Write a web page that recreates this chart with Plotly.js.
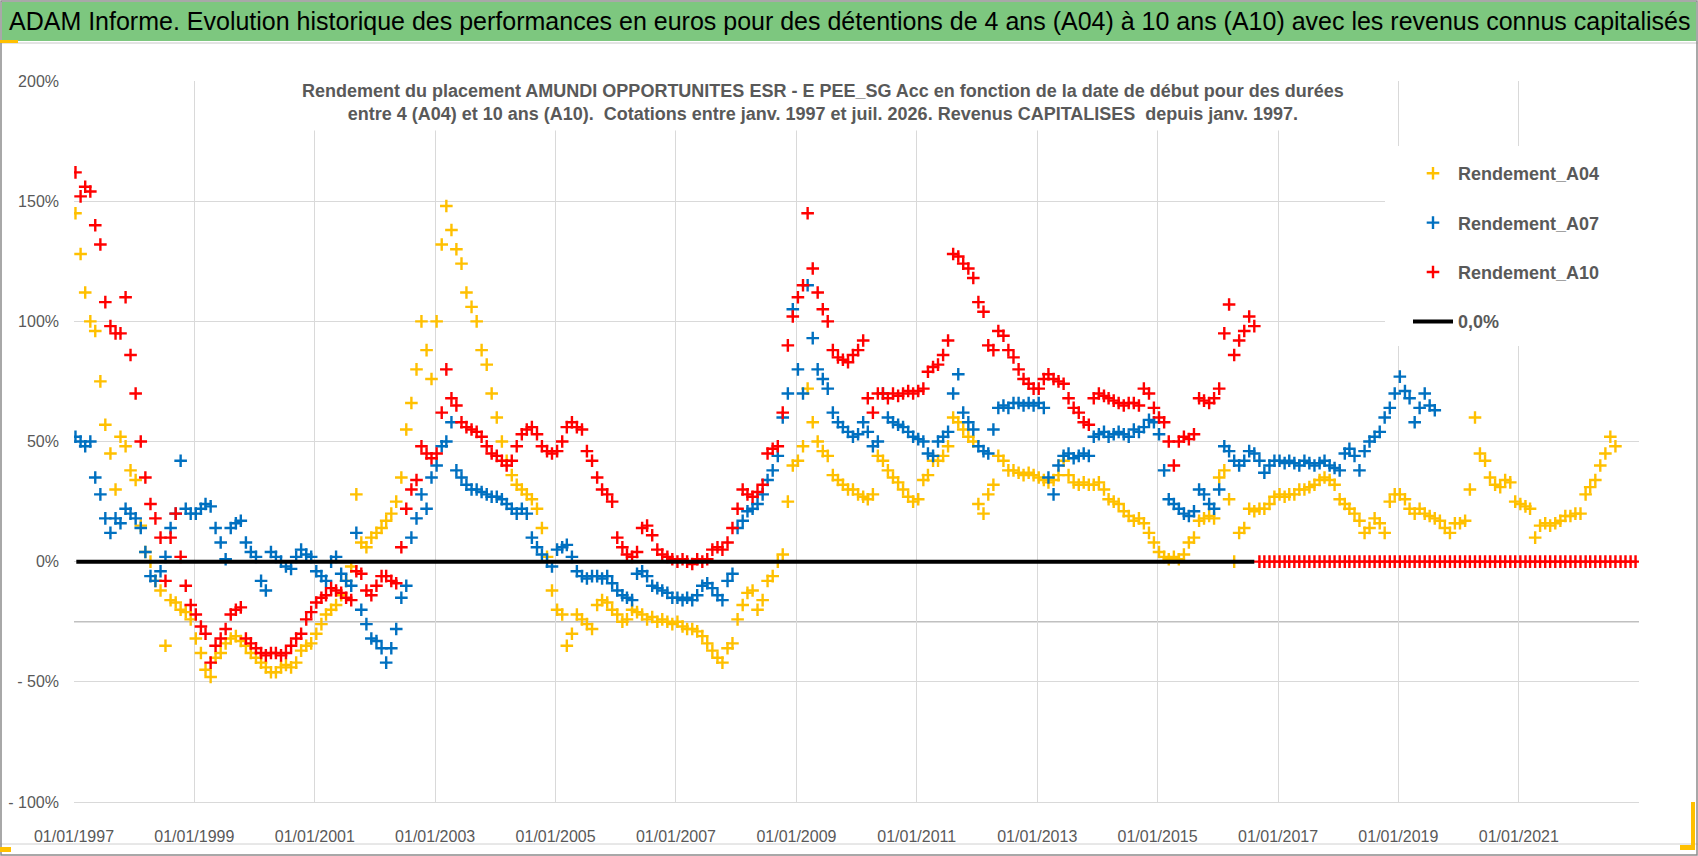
<!DOCTYPE html>
<html>
<head>
<meta charset="utf-8">
<script src="https://cdn.plot.ly/plotly-3.0.1.min.js"></script>
<style>
  html, body { margin: 0; padding: 0; background: #fff; }
  #chart { width: 1698px; height: 856px; }
</style>
</head>
<body>
<div id="chart"></div>
<script>
// monthly readings (%), one value per month starting January 1997
const rendementA04 = [
  145, 128, 112, 100, 96, 75, 57, 45, 30, 52, 48, 38,
  34, 15, 4, 0, -8, -12, -35, -16, -17, -20, -21, -24,
  -32, -38, -45, -48, -40, -38, -34, -32, -31, -33, -35, -38,
  -40, -42, -44, -46, -46, -44, -43, -44, -42, -37, -35, -34,
  -30, -26, -22, -20, -18, -14, -8, -2, 28, 8, 6, 10,
  12, 14, 17, 20, 25, 35, 55, 66, 80, 100, 88, 76,
  100, 132, 148, 138, 130, 124, 112, 106, 100, 88, 82, 70,
  60, 50, 42, 36, 32, 30, 28, 26, 22, 14, 2, -12,
  -20, -22, -35, -30, -22, -24, -26, -28, -18, -16, -17, -20,
  -22, -25, -24, -20, -21, -22, -24, -23, -25, -24, -25, -26,
  -25, -27, -28, -28, -29, -31, -34, -37, -40, -42, -36, -34,
  -24, -18, -13, -12, -20, -16, -8, -6, 0, 3, 25, 40,
  42, 48, 72, 58, 50, 46, 44, 36, 34, 32, 30, 30,
  28, 27, 26, 28, 44, 42, 38, 35, 33, 30, 27, 25,
  26, 34, 36, 42, 42, 44, 48, 60, 58, 55, 52, 50,
  24, 20, 28, 32, 44, 42, 38, 38, 37, 36, 37, 36,
  35, 34, 33, 34, 36, 42, 36, 33, 32, 33, 32, 32,
  33, 30, 26, 25, 24, 21, 19, 17, 18, 16, 12, 8,
  4, 2, 1, 2, 1, 3, 8, 10, 17, 18, 19, 18,
  35, 38, 26, 0, 12, 14, 22, 21, 22, 22, 24, 27,
  28, 27, 28, 28, 30, 30, 31, 32, 34, 35, 34, 32,
  26, 24, 22, 20, 17, 12, 14, 18, 16, 12, 25, 28,
  28, 26, 22, 20, 22, 20, 19, 18, 17, 14, 12, 16,
  16, 17, 30, 60, 45, 42, 35, 32, 31, 34, 33, 25,
  24, 23, 22, 10, 15, 16, 15, 16, 17, 19, 19, 20,
  20, 28, 31, 34, 40, 45, 52, 48
];

const rendementA07 = [
  52, 50, 48, 50, 35, 28, 18, 12, 18, 16, 22, 20,
  18, 14, 4, -6, -8, -4, 2, 14, 20, 42, 22, 20,
  20, 22, 24, 23, 14, 8, 1, 14, 16, 17, 8, 4,
  2, -8, -12, 4, 2, 0, -2, -3, 2, 5, 3, 2,
  -4, -6, -8, 0, 2, -5, -8, -10, 12, -20, -26, -32,
  -33, -36, -42, -36, -28, -15, -10, 10, 18, 28, 22, 35,
  40, 48, 50, 58, 38, 35, 32, 30, 30, 29, 28, 27,
  27, 26, 24, 22, 20, 22, 20, 10, 6, 3, 0, -2,
  5, 6, 7, 2, -4, -6, -7, -6, -6, -7, -6, -9,
  -12, -14, -15, -16, -5, -4, -6, -10, -11, -12, -13, -15,
  -15, -16, -15, -16, -14, -10, -9, -11, -14, -16, -8, -5,
  14, 17, 21, 22, 24, 28, 34, 38, 44, 60, 70, 105,
  80, 70, 115, 93, 80, 76, 72, 62, 58, 56, 54, 52,
  53, 58, 54, 48, 50, 70, 60, 58, 57, 56, 54, 52,
  51, 50, 45, 44, 50, 52, 54, 70, 78, 62, 58, 55,
  48, 46, 45, 55, 64, 65, 64, 66, 66, 65, 66, 65,
  66, 64, 35, 28, 40, 44, 45, 43, 44, 45, 44, 52,
  53, 54, 52, 53, 54, 53, 52, 55, 54, 56, 59, 58,
  53, 38, 26, 24, 22, 20, 19, 21, 30, 28, 24, 22,
  30, 48, 46, 42, 40, 42, 46, 45, 42, 37, 40, 42,
  42, 41, 42, 41, 40, 42, 41, 40, 41, 42, 40, 39,
  38, 45, 47, 44, 38, 46, 50, 52, 54, 60, 64, 70,
  77, 71, 68, 58, 64, 70, 65, 63
];

const rendementA10 = [
  162, 152, 156, 154, 140, 132, 108, 98, 95, 95, 110, 86,
  70, 50, 35, 24, 18, 10, -8, 10, 20, 2, -10, -18,
  -22, -27, -30, -42, -35, -32, -28, -22, -20, -19, -32, -34,
  -36, -38, -39, -38, -38, -39, -38, -35, -32, -30, -24, -21,
  -17, -15, -14, -11, -12, -13, -15, -16, -4, -5, -12, -14,
  -10, -6, -6, -8, -9, 6, 22, 30, 34, 48, 45, 43,
  45, 62, 80, 68, 65, 58, 56, 55, 54, 52, 48, 45,
  44, 42, 40, 42, 48, 53, 55, 56, 53, 48, 46, 45,
  46, 50, 56, 58, 56, 55, 46, 42, 35, 30, 28, 25,
  10, 6, 3, 2, 4, 14, 15, 11, 5, 3, 2, 1,
  0, 1, 0, -1, 1, 0, 1, 5, 6, 5, 8, 14,
  22, 30, 28, 27, 29, 32, 45, 47, 48, 62, 90, 102,
  110, 115, 145, 122, 112, 105, 100, 88, 85, 84, 83, 86,
  88, 92, 68, 62, 70, 70, 68, 70, 69, 70, 71, 70,
  71, 72, 79, 81, 82, 86, 92, 128, 127, 124, 122, 118,
  108, 104, 90, 88, 96, 94, 88, 85, 80, 76, 74, 72,
  72, 76, 78, 76, 75, 74, 68, 64, 62, 58, 57, 68,
  70, 69, 68, 67, 66, 65, 66, 66, 65, 72, 70, 64,
  60, 58, 50, 40, 50, 52, 51, 53, 68, 67, 66, 68,
  72, 95, 107, 86, 92, 96, 102, 98, 0, 0, 0, 0,
  0, 0, 0, 0, 0, 0, 0, 0, 0, 0, 0, 0,
  0, 0, 0, 0, 0, 0, 0, 0, 0, 0, 0, 0,
  0, 0, 0, 0, 0, 0, 0, 0, 0, 0, 0, 0,
  0, 0, 0, 0, 0, 0, 0, 0, 0, 0, 0, 0,
  0, 0, 0, 0, 0, 0, 0, 0, 0, 0, 0, 0,
  0, 0, 0, 0, 0, 0, 0, 0, 0, 0, 0, 0
];

const zeroLineDates = ['1997-01-15', '2016-08-10'];
const zeroLineValues = [0, 0];

const yTickVals = [-100, -50, 0, 50, 100, 150, 200];
const yTickText = ['- 100%', '- 50%', '0%', '50%', '100%', '150%', '200%'];

const bannerText = 'ADAM Informe. Evolution historique des performances en euros pour des détentions de 4 ans (A04) à 10 ans (A10) avec les revenus connus capitalisés';
const subtitleText = 'Rendement du placement AMUNDI OPPORTUNITES ESR - E PEE_SG Acc en fonction de la date de début pour des durées<br>entre 4 (A04) et 10 ans (A10).  Cotations entre janv. 1997 et juil. 2026. Revenus CAPITALISES  depuis janv. 1997.';

function monthDates(count) {
  const out = [];
  for (let i = 0; i < count; i++) {
    const y = 1997 + Math.floor(i / 12);
    const m = (i % 12) + 1;
    out.push(y + '-' + String(m).padStart(2, '0') + '-10');
  }
  return out;
}

const FONT = 'Liberation Sans, Arial, sans-serif';
const GREY = '#595959';

// plot area in pixels, used to place the frame pieces
const L = 74, R = 1639, T = 81, B = 802;
const px = x => (x - L) / (R - L);
const py = y => (B - y) / (B - T);

function crossTrace(name, values, color) {
  return {
    x: monthDates(values.length),
    y: values,
    name,
    type: 'scatter',
    mode: 'markers',
    legendgroup: name,
    marker: {
      symbol: 'cross-thin',
      size: 9,
      color,
      line: {width: 2.4, color}
    }
  };
}

function rendementPlot() {
  const data = [
    crossTrace('Rendement_A04', rendementA04, '#FFC000'),
    crossTrace('Rendement_A07', rendementA07, '#0070C0'),
    crossTrace('Rendement_A10', rendementA10, '#FF0000'),
    {
      x: zeroLineDates,
      y: zeroLineValues,
      name: '0,0%',
      type: 'scatter',
      mode: 'lines',
      legendgroup: 'zero',
      line: {width: 4, color: 'black'}
    }
  ];

  const rect = (x0, y0, x1, y1, fill) => ({
    type: 'rect', xref: 'paper', yref: 'paper',
    x0: px(x0), x1: px(x1), y0: py(y0), y1: py(y1),
    fillcolor: fill, line: {width: 0}
  });

  const layout = {
    width: 1698,
    height: 856,
    paper_bgcolor: 'white',
    plot_bgcolor: 'white',
    margin: {l: L, r: 1698 - R, t: T, b: 856 - B},
    showlegend: true,
    legend: {
      x: px(1408),
      y: py(155),
      xanchor: 'left',
      yanchor: 'top',
      bgcolor: 'white',
      traceorder: 'grouped',
      tracegroupgap: 23,
      itemwidth: 40,
      font: {family: FONT, size: 18, color: GREY, weight: 'bold'}
    },
    xaxis: {
      type: 'date',
      range: ['1997-01-01', '2022-12-31'],
      tick0: '1997-01-01',
      dtick: 'M24',
      tickformat: '%d/%m/%Y',
      showgrid: true,
      gridcolor: '#D9D9D9',
      showline: true,
      linecolor: '#D9D9D9',
      zeroline: false,
      ticks: '',
      ticklabelstandoff: 20,
      tickfont: {family: FONT, size: 16, color: GREY}
    },
    yaxis: {
      range: [-100, 200],
      tickvals: yTickVals,
      ticktext: yTickText,
      showgrid: true,
      gridcolor: '#D9D9D9',
      zeroline: false,
      ticks: '',
      ticklabelstandoff: 14,
      tickfont: {family: FONT, size: 16, color: GREY}
    },
    shapes: [
      rect(2, 2, 1696, 41, '#7DC77F'),
      {type: 'line', xref: 'paper', yref: 'paper', x0: px(0), x1: px(1698), y0: py(43), y1: py(43),
        line: {color: '#C8C8C8', width: 1}},
      {type: 'line', xref: 'paper', yref: 'paper', x0: px(0), x1: px(1698), y0: py(844), y1: py(844),
        line: {color: '#D0D0D0', width: 1}},
      {type: 'rect', xref: 'paper', yref: 'paper', x0: px(1), x1: px(1697), y0: py(1), y1: py(855),
        line: {color: '#8C8C8C', width: 1.5}},
      {type: 'line', xref: 'paper', yref: 'y', x0: 0, x1: 1, y0: -25, y1: -25, layer: 'below',
        line: {color: '#C0C0C0', width: 1.5}},
      // white box behind the legend, hiding the grid as in the original
      Object.assign(rect(1385, 146, 1645, 346, 'white'), {layer: 'above'}),
      rect(0, 40, 18, 43, '#FFC000'),
      rect(0, 847, 11, 852, '#FFC000'),
      rect(1691, 802, 1695, 850, '#FFC000'),
      rect(1680, 845, 1695, 850, '#FFC000')
    ],
    annotations: [
      {
        text: bannerText,
        xref: 'paper', yref: 'paper',
        x: px(849), y: py(21),
        xanchor: 'center', yanchor: 'middle',
        showarrow: false,
        font: {family: FONT, size: 25, color: 'black'}
      },
      {
        text: subtitleText,
        xref: 'paper', yref: 'paper',
        x: px(823), y: py(103),
        xanchor: 'center', yanchor: 'middle',
        align: 'center',
        showarrow: false,
        bgcolor: 'white',
        borderpad: 6,
        font: {family: FONT, size: 18, color: GREY, weight: 'bold'}
      }
    ]
  };

  Plotly.newPlot('chart', data, layout, {staticPlot: true});
}

rendementPlot();
</script>
</body>
</html>
